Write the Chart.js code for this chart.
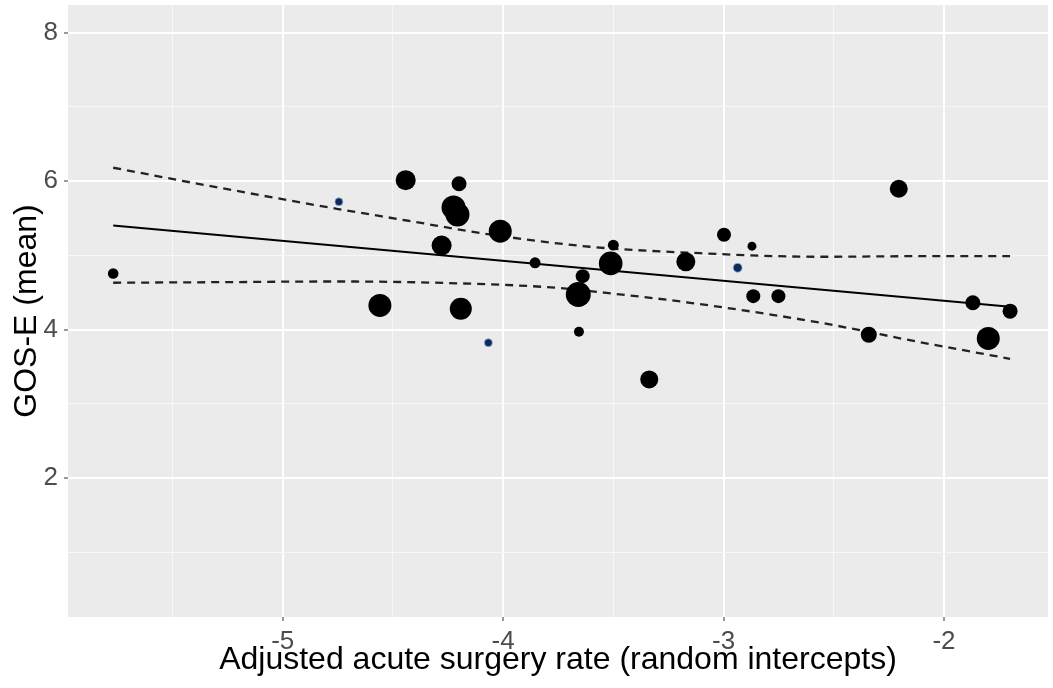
<!DOCTYPE html>
<html>
<head>
<meta charset="utf-8">
<script src="https://cdn.jsdelivr.net/npm/chart.js@4.4.1/dist/chart.umd.min.js"></script>
<style>
  html, body { margin: 0; padding: 0; background: #fff; }
  #wrap { width: 1053px; height: 688px; position: relative; }
</style>
</head>
<body>
<div id="wrap"><canvas id="plot"></canvas></div>
<script>
// centres (black points): adjusted surgery rate, mean GOS-E, patients
const rateX = [-5.769, -4.442, -4.200, -4.225, -4.207, -4.013, -4.279, -3.855, -4.559, -4.192,
               -3.656, -3.500, -3.512, -3.659, -3.639, -3.171, -2.998, -2.871, -2.865, -2.751,
               -3.337, -2.205, -1.869, -1.700, -2.341, -1.799];
const gosY  = [4.756, 6.014, 5.965, 5.646, 5.551, 5.326, 5.133, 4.900, 4.325, 4.280,
               3.970, 5.138, 4.891, 4.473, 4.720, 4.914, 5.278, 5.124, 4.450, 4.450,
               3.328, 5.898, 4.361, 4.248, 3.930, 3.880];
const patients = [28, 100, 56, 144, 144, 132, 100, 30, 132, 121,
                  25, 30, 140, 156, 49, 90, 49, 20, 49, 49,
                  81, 81, 56, 56, 64, 132];

// small centres drawn in blue
const blueX = [-4.745, -4.067, -2.936];
const blueY = [5.722, 3.822, 4.833];
const bluePatients = [16, 16, 20];

// fitted line and confidence limits
const fitX = [-5.769, -1.700];
const fitY = [5.403, 4.307];
const upperX = [-5.769, -5.27, -4.755, -4.437, -4.06, -3.606, -3.152, -2.561, -2.109, -1.70];
const upperY = [6.181, 5.902, 5.628, 5.470, 5.282, 5.116, 5.035, 4.981, 4.989, 4.989];
const lowerX = [-5.769, -5.27, -4.755, -4.18, -3.757, -3.606, -3.152, -2.561, -2.109, -1.70];
const lowerY = [4.631, 4.639, 4.648, 4.621, 4.563, 4.518, 4.361, 4.092, 3.830, 3.606];

// axis ticks
const xMajor = [-5, -4, -3, -2];
const xMinor = [-5.5, -4.5, -3.5, -2.5];
const yMajor = [2, 4, 6, 8];
const yMinor = [1, 3, 5, 7];

const FONT = "'Liberation Sans', Arial, Helvetica, sans-serif";

const pairs = (xs, ys) => xs.map((x, i) => ({ x, y: ys[i] }));
const radiusOf = n => Math.sqrt(n);

const panelBg = {
    id: 'panelBg',
    beforeDraw(chart) {
        const { ctx, chartArea: a } = chart;
        ctx.save();
        ctx.fillStyle = '#EBEBEB';
        ctx.fillRect(a.left, a.top, a.right - a.left, a.bottom - a.top);
        ctx.restore();
    }
};

function tickList(major, minor) {
    return [...major, ...minor].sort((a, b) => a - b).map(v => ({ value: v }));
}

const isMajor = (list, v) => list.some(m => Math.abs(m - v) < 1e-9);

function axis(major, minor, min, max, title, titlePad, labelPad, fitFn) {
    return {
        type: 'linear',
        min, max,
        afterBuildTicks: s => { s.ticks = tickList(major, minor); },
        afterFit: fitFn,
        border: { display: false },
        grid: {
            color: c => isMajor(major, c.tick.value) ? '#FFFFFF' : '#F7F7F7',
            lineWidth: c => isMajor(major, c.tick.value) ? 2 : 1,
            tickColor: c => isMajor(major, c.tick.value) ? '#333333' : 'rgba(0,0,0,0)',
            tickLength: 4,
            tickWidth: 1
        },
        ticks: {
            autoSkip: false,
            maxRotation: 0,
            padding: labelPad,
            color: '#4D4D4D',
            font: { family: FONT, size: 26 },
            callback: v => isMajor(major, v) ? String(v) : ''
        },
        title: {
            display: true,
            text: title,
            color: '#000000',
            padding: titlePad,
            font: { family: FONT, size: 32 }
        }
    };
}

new Chart(document.getElementById('plot'), {
    type: 'scatter',
    data: {
        datasets: [
            {
                label: 'centres',
                data: pairs(rateX, gosY),
                backgroundColor: '#000000',
                borderColor: '#000000',
                borderWidth: 0,
                pointRadius: patients.map(radiusOf),
                order: 1
            },
            {
                label: 'small centres',
                data: pairs(blueX, blueY),
                backgroundColor: '#10295A',
                borderColor: 'rgba(140,185,230,0.8)',
                borderWidth: 1,
                pointRadius: bluePatients.map(radiusOf),
                order: 0
            },
            {
                label: 'fit',
                data: pairs(fitX, fitY),
                showLine: true,
                borderColor: '#000000',
                borderWidth: 2,
                pointRadius: 0,
                order: 2
            },
            {
                label: 'upper',
                data: pairs(upperX, upperY),
                showLine: true,
                borderColor: '#222222',
                borderWidth: 2.3,
                borderDash: [8, 6],
                cubicInterpolationMode: 'monotone',
                pointRadius: 0,
                order: 3
            },
            {
                label: 'lower',
                data: pairs(lowerX, lowerY),
                showLine: true,
                borderColor: '#222222',
                borderWidth: 2.3,
                borderDash: [8, 6],
                cubicInterpolationMode: 'monotone',
                pointRadius: 0,
                order: 3
            }
        ]
    },
    options: {
        responsive: true,
        maintainAspectRatio: false,
        animation: false,
        layout: { autoPadding: false, padding: { top: 5, right: 5, left: 0, bottom: 0 } },
        plugins: {
            legend: { display: false },
            tooltip: { enabled: false }
        },
        scales: {
            x: axis(xMajor, xMinor, -5.974, -1.528,
                'Adjusted acute surgery rate (random intercepts)',
                { top: 0, bottom: 9 }, 5,
                s => { s.height = 71; s.paddingLeft = 0; s.paddingRight = 0; }),
            y: axis(yMajor, yMinor, 0.125, 8.375,
                'GOS-E (mean)',
                { top: 8, bottom: 0 }, 6,
                s => { s.width = 68; s.paddingTop = 0; s.paddingBottom = 0; })
        }
    },
    plugins: [panelBg]
});
</script>
</body>
</html>
